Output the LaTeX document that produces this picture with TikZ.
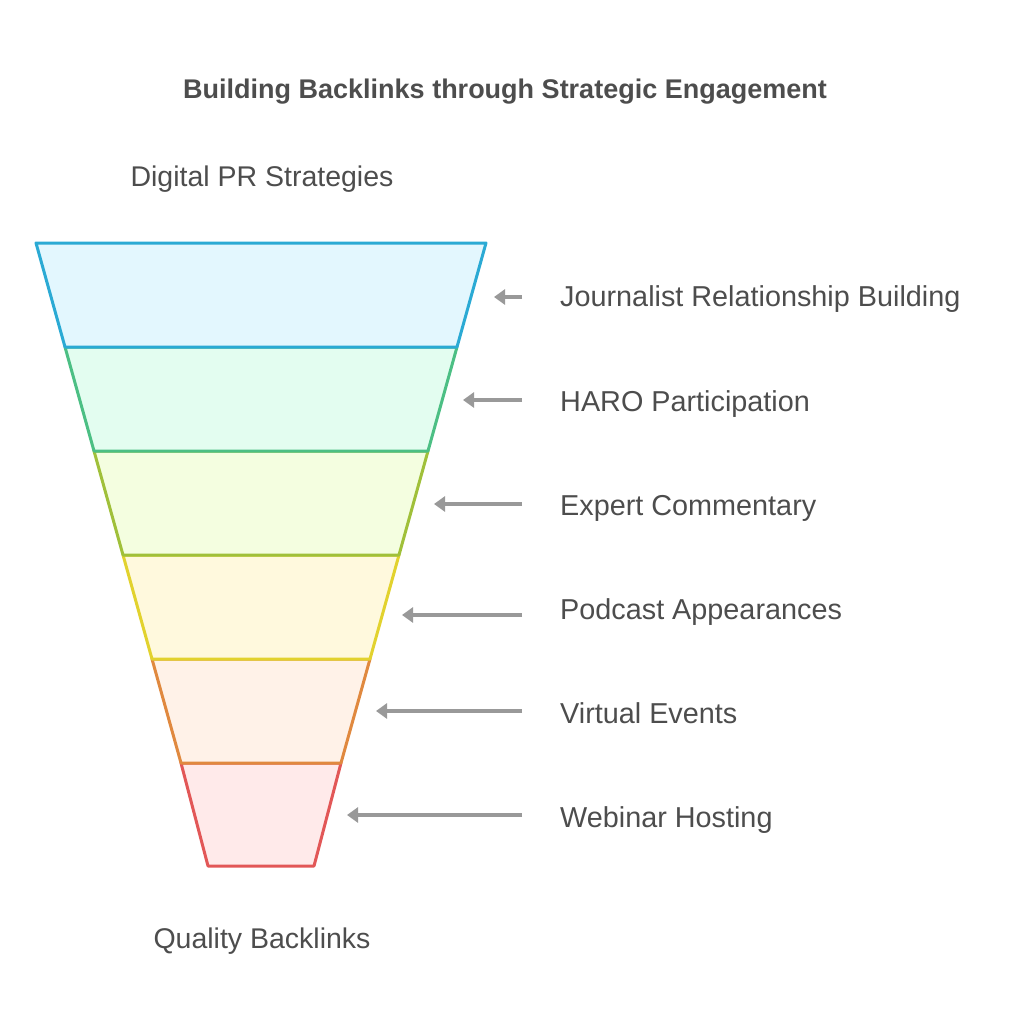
\documentclass[tikz,border=0pt]{standalone}
\usepackage{fontspec}
\usepackage{xcolor}
\setmainfont{Liberation Sans}
\definecolor{textgray}{RGB}{77, 77, 77}
\definecolor{arrowgray}{RGB}{153, 153, 153}
\definecolor{bandblue}{RGB}{43, 170, 212}
\definecolor{bandgreen}{RGB}{76, 191, 132}
\definecolor{bandolive}{RGB}{160, 192, 58}
\definecolor{bandyellow}{RGB}{226, 210, 46}
\definecolor{bandorange}{RGB}{224, 137, 63}
\definecolor{bandred}{RGB}{226, 87, 87}
\definecolor{fillblue}{RGB}{227, 247, 254}
\definecolor{fillgreen}{RGB}{227, 253, 240}
\definecolor{fillolive}{RGB}{244, 254, 224}
\definecolor{fillyellow}{RGB}{255, 249, 221}
\definecolor{fillorange}{RGB}{255, 242, 232}
\definecolor{fillred}{RGB}{255, 234, 234}
\usetikzlibrary{arrows.meta, positioning}

\begin{document}
\begin{tikzpicture}[
    x=1pt, y=-1pt,
    band/.style={line width=3pt, line join=round},
    label/.style={anchor=base west, inner sep=0pt, text=textgray, font=\fontsize{28.8}{34}\selectfont},
    endlabel/.style={anchor=base, inner sep=0pt, text=textgray, font=\fontsize{28.5}{34}\selectfont},
    arrow/.style={-{Triangle[length=11pt, width=15pt]}, line width=3.5pt, arrowgray}
]
    % Page frame
    \useasboundingbox (0, 0) rectangle (1008, 1024);

    % Title
    \node[anchor=base, inner sep=0pt, text=textgray, font=\fontsize{27}{32}\selectfont\bfseries] (title) at (505, 99) {Building Backlinks through Strategic Engagement};

    % Funnel corners
    \coordinate (l0) at (36, 243);  \coordinate (r0) at (486, 243);
    \coordinate (l1) at (65, 347);  \coordinate (r1) at (457, 347);
    \coordinate (l2) at (94, 451);  \coordinate (r2) at (428, 451);
    \coordinate (l3) at (123, 555); \coordinate (r3) at (399, 555);
    \coordinate (l4) at (152, 659); \coordinate (r4) at (370, 659);
    \coordinate (l5) at (181, 763); \coordinate (r5) at (341, 763);
    \coordinate (l6) at (208, 866); \coordinate (r6) at (314, 866);

    % Funnel bands (bottom first)
    \draw[band, draw=bandred, fill=fillred] (l5) -- (r5) -- (r6) -- (l6) -- cycle;
    \draw[band, draw=bandorange, fill=fillorange] (l4) -- (r4) -- (r5) -- (l5) -- cycle;
    \draw[band, draw=bandyellow, fill=fillyellow] (l3) -- (r3) -- (r4) -- (l4) -- cycle;
    \draw[band, draw=bandolive, fill=fillolive] (l2) -- (r2) -- (r3) -- (l3) -- cycle;
    \draw[band, draw=bandgreen, fill=fillgreen] (l1) -- (r1) -- (r2) -- (l2) -- cycle;
    \draw[band, draw=bandblue, fill=fillblue] (l0) -- (r0) -- (r1) -- (l1) -- cycle;

    % Funnel ends
    \node[endlabel] (top) at (262, 187) {Digital PR Strategies};
    \node[endlabel] (bottom) at (262, 948) {Quality Backlinks};

    % Stage labels
    \node[label] (journalist) at (560, 306) {Journalist Relationship Building};
    \node[label] (haro) at (560, 411) {HARO Participation};
    \node[label] (expert) at (560, 515) {Expert Commentary};
    \node[label] (podcast) at (560, 619) {Podcast Appearances};
    \node[label] (virtual) at (560, 723) {Virtual Events};
    \node[label] (webinar) at (560, 827) {Webinar Hosting};

    % Arrow ends
    \coordinate (s1) at (522, 297); \coordinate (t1) at (494, 297);
    \coordinate (s2) at (522, 400); \coordinate (t2) at (463, 400);
    \coordinate (s3) at (522, 504); \coordinate (t3) at (434, 504);
    \coordinate (s4) at (522, 615); \coordinate (t4) at (402, 615);
    \coordinate (s5) at (522, 711); \coordinate (t5) at (376, 711);
    \coordinate (s6) at (522, 815); \coordinate (t6) at (347, 815);

    % Arrows
    \draw[arrow] (s1) -- (t1);
    \draw[arrow] (s2) -- (t2);
    \draw[arrow] (s3) -- (t3);
    \draw[arrow] (s4) -- (t4);
    \draw[arrow] (s5) -- (t5);
    \draw[arrow] (s6) -- (t6);

\end{tikzpicture}
\end{document}
